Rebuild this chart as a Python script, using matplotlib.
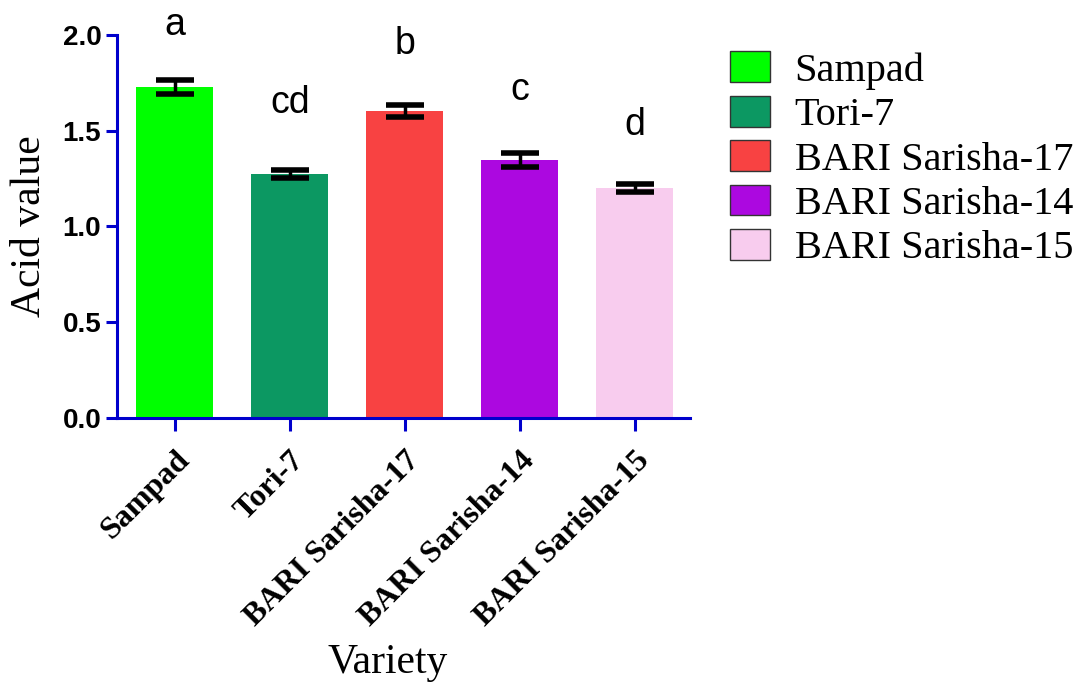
import matplotlib
matplotlib.use("Agg")
import matplotlib.pyplot as plt
from matplotlib.patches import Patch

varieties = ["Sampad", "Tori-7", "BARI Sarisha-17", "BARI Sarisha-14", "BARI Sarisha-15"]
acid = [1.728, 1.274, 1.603, 1.347, 1.200]
err = [0.035, 0.020, 0.030, 0.035, 0.020]
letters = ["a", "cd", "b", "c", "d"]
letter_y = [2.05, 1.645, 1.95, 1.71, 1.53]
colors = ["#00FF00", "#0C9862", "#F84242", "#AC08E0", "#F8CCEE"]

blue = "#0000CC"

fig = plt.figure(figsize=(10.8, 6.84), dpi=100)
ax = fig.add_axes([0.108, 0.389, 0.531, 0.56])

x = list(range(len(varieties)))
ax.bar(x, acid, width=0.67, color=colors)
ax.errorbar(x, acid, yerr=err, fmt="none", ecolor="black", elinewidth=2.5,
            capsize=14, capthick=4)

for xi, lab, ly in zip(x, letters, letter_y):
    ax.text(xi, ly, lab, ha="center", va="center", fontsize=27,
            family="Liberation Sans", clip_on=False)

ax.set_xlim(-0.505, 4.48)
ax.set_ylim(0, 2.0)
ax.set_yticks([0.0, 0.5, 1.0, 1.5, 2.0])
ax.set_yticklabels(["0.0", "0.5", "1.0", "1.5", "2.0"])
ax.set_xticks(x)
ax.set_xticklabels(varieties, rotation=45, ha="right", rotation_mode="anchor",
                   family="Liberation Serif", fontweight="bold", fontsize=23)
for t in ax.get_yticklabels():
    t.set_family("Liberation Sans")
    t.set_fontweight("bold")
    t.set_fontsize(20)

for s in ["top", "right"]:
    ax.spines[s].set_visible(False)
for s in ["left", "bottom"]:
    ax.spines[s].set_color(blue)
    ax.spines[s].set_linewidth(2.2)
ax.tick_params(axis="both", colors=blue, width=2.2, length=8, labelcolor="black")
ax.tick_params(axis="x", length=9, pad=11)
ax.tick_params(axis="y", pad=3)

ax.set_ylabel("Acid value", family="Liberation Serif", fontsize=30, labelpad=10)
ax.set_xlabel("Variety", family="Liberation Serif", fontsize=30)
ax.xaxis.set_label_coords(0.473, -0.59)

handles = [Patch(facecolor=c, edgecolor="#333333", linewidth=1) for c in colors]
fig.legend(handles, varieties, loc="upper left", bbox_to_anchor=(0.676, 0.925),
           frameon=False, prop={"family": "Liberation Serif", "size": 29},
           handlelength=1.0, handleheight=0.8, handletextpad=0.6,
           labelspacing=0.15, borderaxespad=0, borderpad=0)

fig.savefig("out.png", dpi=100)
